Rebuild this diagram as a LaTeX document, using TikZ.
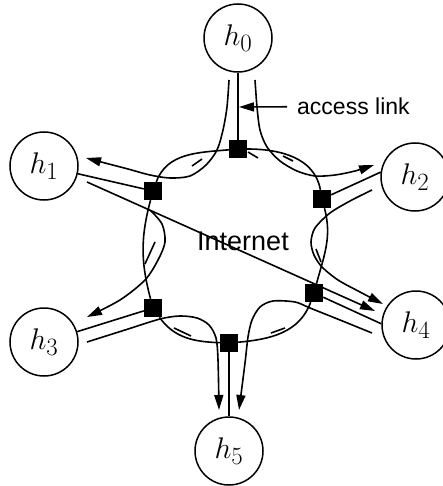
\documentclass[tikz,border=0pt]{standalone}
\usepackage{fontspec}
\newfontfamily\labelsans{Liberation Sans}
\usetikzlibrary{arrows.meta}
\pgfdeclarelayer{wires}
\pgfsetlayers{wires,main}
\newcommand{\hostlabel}[1]{\scalebox{1.2}{$h_{#1}$}}
\begin{document}
\begin{tikzpicture}[x=1pt,y=1pt,
  host/.style={circle,draw,line width=1.5pt,minimum size=68pt,inner sep=0pt,
               font=\fontsize{24.88}{30}\selectfont},
  router/.style={rectangle,fill=black,minimum size=18pt,inner sep=0pt},
  wire/.style={line width=1.6pt},
  flow/.style={line width=1.6pt,-{Triangle[length=15pt,width=9pt]}},
  caption/.style={inner sep=0pt,anchor=base west}]
\useasboundingbox (0,0) rectangle (442,-486);

% hosts
\node[host] (h0) at (238,-38)  {\hostlabel{0}};
\node[host] (h1) at (44,-166)  {\hostlabel{1}};
\node[host] (h2) at (415,-177) {\hostlabel{2}};
\node[host] (h3) at (44,-342)  {\hostlabel{3}};
\node[host] (h4) at (416,-325) {\hostlabel{4}};
\node[host] (h5) at (229,-451) {\hostlabel{5}};

% routers of the Internet ring
\node[router] (r0) at (238,-149) {};
\node[router] (r1) at (153,-191) {};
\node[router] (r2) at (322,-199) {};
\node[router] (r3) at (153,-308) {};
\node[router] (r4) at (314,-293) {};
\node[router] (r5) at (229,-343) {};

% labels
\node[caption,font=\labelsans\fontsize{23}{26}\selectfont] (acc) at (297,-115) {access link};
\node[caption,font=\labelsans\fontsize{27}{30}\selectfont] (net) at (197,-250) {Internet};

% flow end points
\coordinate (s0a) at (229,-80);
\coordinate (s0b) at (255,-80);
\coordinate (s1)  at (87,-182);
\coordinate (s2)  at (372,-190);
\coordinate (s3)  at (87,-342);
\coordinate (s4)  at (372,-333);
\coordinate (e1)  at (86,-158);
\coordinate (e2)  at (374,-165);
\coordinate (e3)  at (87,-317);
\coordinate (e4a) at (375,-311);
\coordinate (e4b) at (383,-304);
\coordinate (e5a) at (219,-410);
\coordinate (e5b) at (239,-410);
\coordinate (acctip) at (239,-107);

\begin{pgfonlayer}{wires}
% access links
\draw[wire] (h0) -- (r0);
\draw[wire] (h1) -- (r1);
\draw[wire] (r2) -- (h2.172);
\draw[wire] (h3) -- (r3);
\draw[wire] (r4) -- (h4.178);
\draw[wire] (r5) -- (h5);

% ring links
\draw[wire] (r1) to[out=70,in=185] (r0);
\draw[wire] (r0) to[out=0,in=100] (r2);
\draw[wire] (r2) to[out=-75,in=75] (r4);
\draw[wire] (r4) to[out=-110,in=5] (r5);
\draw[wire] (r3) to[out=-55,in=178] (r5);
\draw[wire] (r1) to[out=-105,in=105] (r3);

% link direction ticks
\draw[wire] (192,-166) -- (202,-159);
\draw[wire] (248,-152) -- (258,-158);
\draw[wire] (283,-156) -- (293,-161);
\draw[wire] (316,-249) -- (321,-262);
\draw[wire] (155,-242) -- (145,-264);
\draw[wire] (174,-328) -- (191,-336);
\draw[wire] (271,-333) -- (285,-328);

% flows
\draw[flow] plot[smooth] coordinates {(s0a) (227,-107) (223,-130) (217,-150)
  (206,-165) (190,-176) (170,-178) (150,-175) (128,-169) (105,-163) (e1)};
\draw[flow] plot[smooth] coordinates {(s0b) (257,-107) (260,-130) (267,-147)
  (280,-161) (297,-171) (315,-176) (335,-175) (355,-171) (e2)};
\draw[flow] (s1) -- coordinate[pos=0.22] (split) (e4a);
\draw[flow] plot[smooth] coordinates {(split) (162,-224) (165,-242) (158,-260)
  (145,-280) (120,-300) (e3)};
\draw[flow] plot[smooth] coordinates {(s2) (350,-201) (330,-213) (315,-228)
  (311,-242) (314,-255) (322,-267) (338,-280) (360,-292) (e4b)};
\draw[flow] plot[smooth] coordinates {(s3) (125,-330) (160,-319) (180,-316)
  (197,-318) (209,-325) (216,-338) (218,-360) (e5a)};
\draw[flow] plot[smooth] coordinates {(s4) (340,-320) (310,-308) (295,-302)
  (273,-301) (260,-307) (252,-320) (248,-337) (245,-363) (e5b)};

% label pointer
\draw[flow] ([xshift=-10pt]acc.west) -- (acctip);
\end{pgfonlayer}
\end{tikzpicture}
\end{document}
